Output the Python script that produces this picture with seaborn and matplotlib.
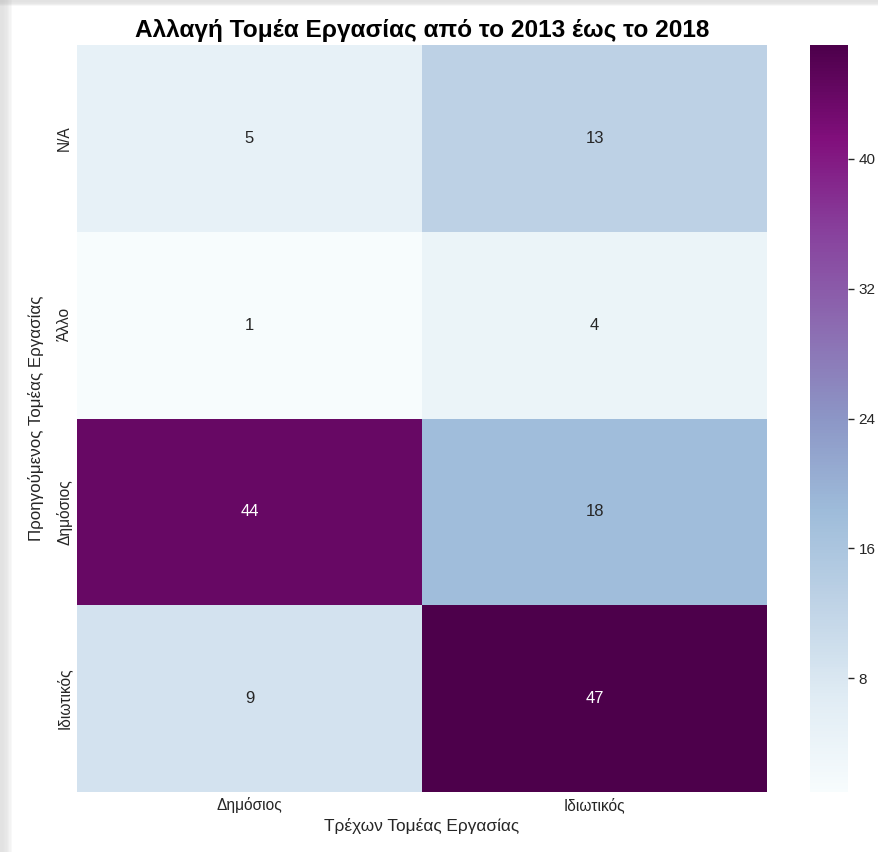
import matplotlib
matplotlib.use("Agg")
import matplotlib.pyplot as plt
from matplotlib.patches import Rectangle
import seaborn as sns
import pandas as pd
import numpy as np

rows = ["N/A", "Άλλο", "Δημόσιος", "Ιδιωτικός"]
cols = ["Δημόσιος", "Ιδιωτικός"]
val_public = [5, 1, 44, 9]
val_private = [13, 4, 18, 47]

df = pd.DataFrame({cols[0]: val_public, cols[1]: val_private}, index=rows)

sns.set_theme(style="white")
plt.rcParams['font.family'] = ['Liberation Sans', 'DejaVu Sans']

fig = plt.figure(figsize=(8.79, 8.52), dpi=100)
ax = fig.add_axes([0.0876, 0.0704, 0.785, 0.8768])
cax = fig.add_axes([0.9215, 0.0704, 0.0432, 0.8768])

sns.heatmap(df, ax=ax, cbar_ax=cax, cmap="BuPu", annot=True, fmt="d",
            annot_kws={"fontsize": 12})
cax.set_yticks([8, 16, 24, 32, 40])
cax.tick_params(labelsize=11, length=4, width=1, color="#262626")
for s in cax.spines.values():
    s.set_visible(False)

ax.set_title("Αλλαγή Τομέα Εργασίας από το 2013 έως το 2018",
             fontsize=17.6, fontweight="bold", color="black", pad=6)
ax.set_xlabel("Τρέχων Τομέας Εργασίας", fontsize=12.4, color="#262626")
ax.set_ylabel("Προηγούμενος Τομέας Εργασίας", fontsize=12.2, color="#262626",
              labelpad=9)
ax.tick_params(axis="both", labelsize=11.2, length=0, colors="#262626")
plt.setp(ax.get_yticklabels(), rotation=90, va="center")

# screenshot-like shadow frame
W, H = 879, 852
for i in range(8):
    a = 0.05 * (1 - i / 8)
    fig.patches.append(Rectangle((0, 1 - (6 - i * 0.6) / H), 1, (6 - i * 0.6) / H,
                                 transform=fig.transFigure, color="#888888",
                                 alpha=a, lw=0, zorder=-1))
    fig.patches.append(Rectangle((0, 0), (12 - i * 1.3) / W, 1,
                                 transform=fig.transFigure, color="#888888",
                                 alpha=a, lw=0, zorder=-1))

fig.savefig("out.png", dpi=100, facecolor="white")
